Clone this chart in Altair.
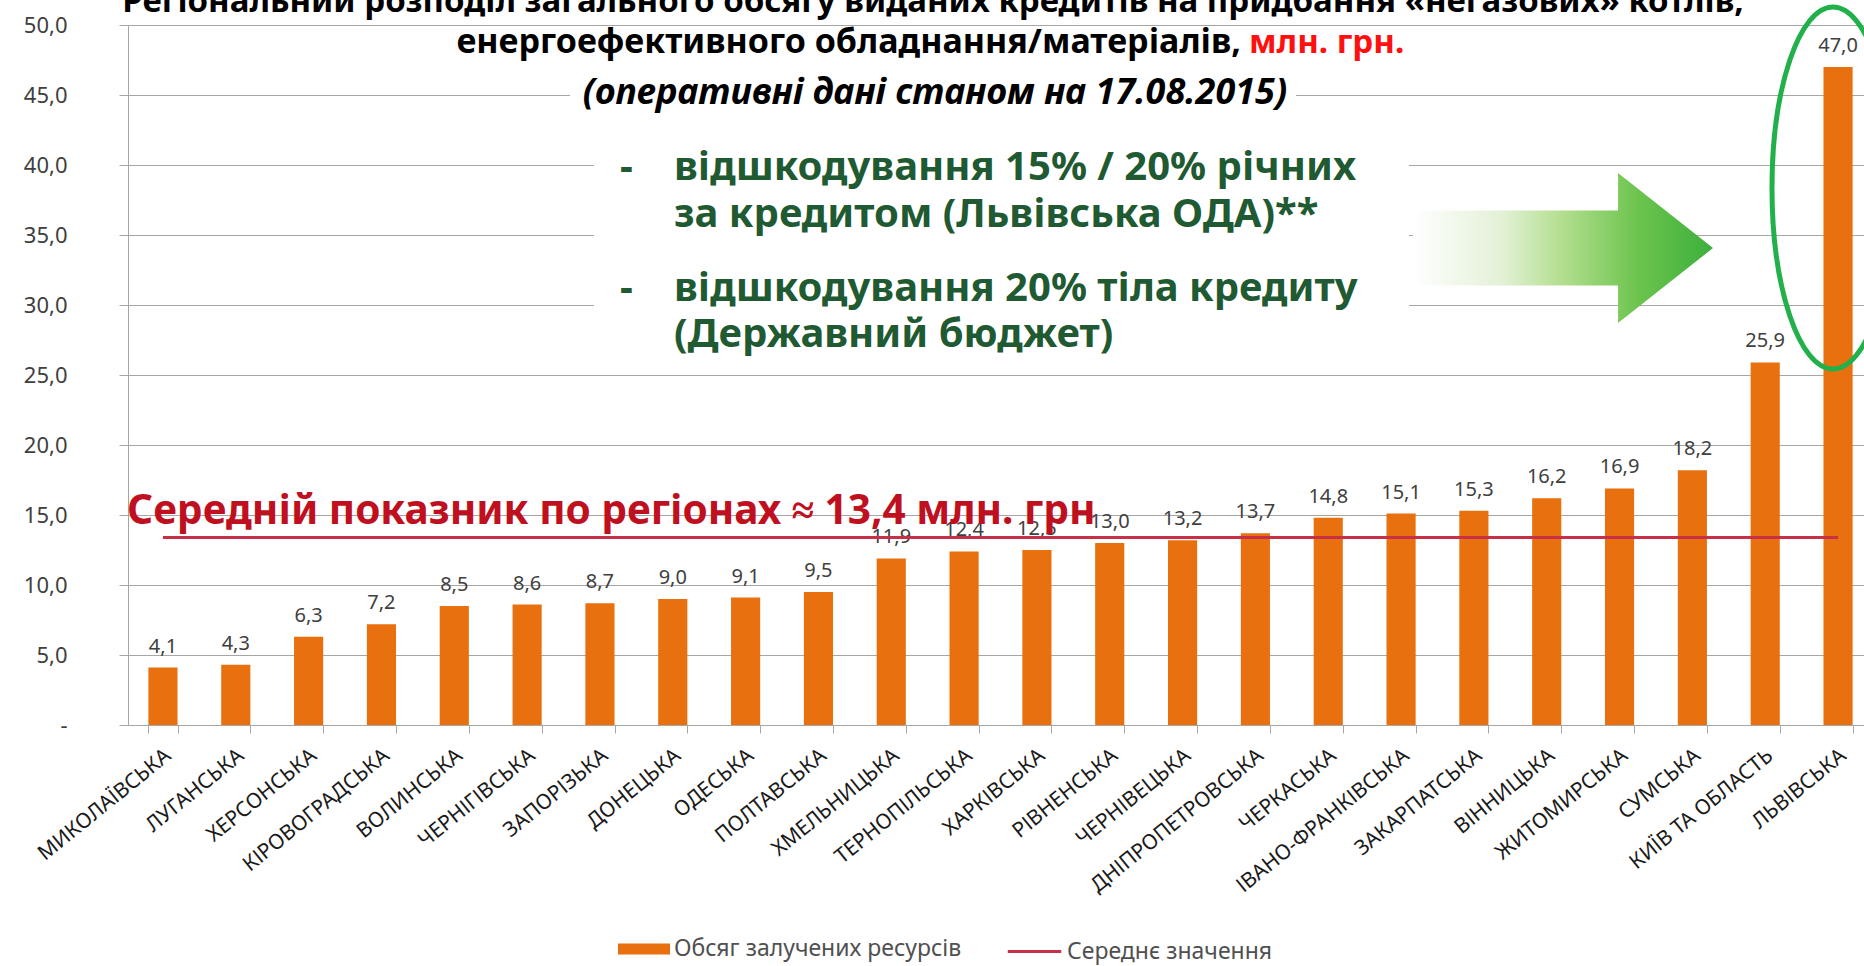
import altair as alt
import pandas as pd

# ---------------- data ----------------
regions = ["МИКОЛАЇВСЬКА", "ЛУГАНСЬКА", "ХЕРСОНСЬКА", "КІРОВОГРАДСЬКА", "ВОЛИНСЬКА",
           "ЧЕРНІГІВСЬКА", "ЗАПОРІЗЬКА", "ДОНЕЦЬКА", "ОДЕСЬКА", "ПОЛТАВСЬКА",
           "ХМЕЛЬНИЦЬКА", "ТЕРНОПІЛЬСЬКА", "ХАРКІВСЬКА", "РІВНЕНСЬКА", "ЧЕРНІВЕЦЬКА",
           "ДНІПРОПЕТРОВСЬКА", "ЧЕРКАСЬКА", "ІВАНО-ФРАНКІВСЬКА", "ЗАКАРПАТСЬКА",
           "ВІННИЦЬКА", "ЖИТОМИРСЬКА", "СУМСЬКА", "КИЇВ ТА ОБЛАСТЬ", "ЛЬВІВСЬКА"]
volumes = [4.1, 4.3, 6.3, 7.2, 8.5, 8.6, 8.7, 9.0, 9.1, 9.5, 11.9, 12.4, 12.5,
           13.0, 13.2, 13.7, 14.8, 15.1, 15.3, 16.2, 16.9, 18.2, 25.9, 47.0]
average_value = [13.4]
y_ticks = [0, 5, 10, 15, 20, 25, 30, 35, 40, 45, 50]
series_names = ["Обсяг залучених ресурсів", "Середнє значення"]

title_line1 = "Регіональний розподіл загального обсягу виданих кредитів на придбання «негазових» котлів,"
title_line2_black = "енергоефективного обладнання/матеріалів, "
title_line2_red = "млн. грн."
title_line3 = "(оперативні дані станом на 17.08.2015)"
avg_note = "Середній показник по регіонах ≈ 13,4 млн. грн"
green_lines = ["відшкодування 15% / 20% річних", "за кредитом (Львівська ОДА)**",
               "відшкодування 20% тіла кредиту", "(Державний бюджет)"]

# ---------------- style ----------------
FONT = "Noto Sans"
ORANGE = "#E8700E"
CRIMSON = "#C8304A"
GRID = "#A6A6A6"
GREEN_TXT = "#1F5A32"
W, H = 1736, 700

bars_df = pd.DataFrame({"region": regions, "value": volumes, "series": series_names[0]})
avg_df = pd.DataFrame({"region": [regions[0]], "region_end": [regions[-1]],
                       "avg": average_value, "series": [series_names[1]]})
one_row = pd.DataFrame({"k": [0]})  # single datum for annotation marks

x_scale = alt.Scale(domain=regions, range=[0, 1745], paddingInner=0.6, paddingOuter=0.28)
y_scale = alt.Scale(domain=[0, 50], nice=False)

x_axis = alt.Axis(title=None, labelAngle=-39, labelAlign="right", labelBaseline="middle",
                  labelFont=FONT, labelFontSize=21, labelColor="#1a1a1a",
                  labelPadding=20, labelOffset=5, tickBand="extent", tickSize=8,
                  tickColor=GRID, domainColor=GRID, grid=False, labelOverlap=False, labelLimit=400)
y_axis = alt.Axis(title=None, values=y_ticks, grid=True, gridColor=GRID, gridWidth=1,
                  tickSize=9, tickColor=GRID, domainColor=GRID, labelFont=FONT,
                  labelFontSize=22, labelColor="#404040", labelPadding=52,
                  labelExpr="datum.value == 0 ? '-\u00a0\u00a0' : replace(format(datum.value, '.1f'), '.', ',')")

bars = alt.Chart(bars_df).mark_bar().encode(
    x=alt.X("region:N", scale=x_scale, axis=x_axis, sort=regions),
    y=alt.Y("value:Q", scale=y_scale, axis=y_axis),
    fill=alt.Fill("series:N", scale=alt.Scale(domain=[series_names[0]], range=[ORANGE]),
                  legend=alt.Legend(orient="none", legendX=490, legendY=898, title=None,
                                    symbolType="M-1,-0.21H1V0.21H-1Z", symbolSize=2704,
                                    labelFont=FONT, labelFontSize=23, labelColor="#505050",
                                    labelOffset=4, padding=0, symbolStrokeWidth=0,
                                    labelLimit=600)),
)

value_labels = alt.Chart(bars_df).transform_calculate(
    lbl="replace(format(datum.value, '.1f'), '.', ',')"
).mark_text(font=FONT, fontSize=20, color="#404040", baseline="alphabetic", dy=-15).encode(
    x=alt.X("region:N", scale=x_scale, sort=regions),
    y=alt.Y("value:Q", scale=y_scale),
    text="lbl:N",
)

avg_rule = alt.Chart(avg_df).mark_rule(strokeWidth=3).encode(
    x=alt.X("region:N", scale=x_scale, sort=regions),
    x2="region_end:N",
    y=alt.Y("avg:Q", scale=y_scale),
    stroke=alt.Stroke("series:N", scale=alt.Scale(domain=[series_names[1]], range=[CRIMSON]),
                      legend=alt.Legend(orient="none", legendX=878, legendY=898, title=None,
                                        symbolType="stroke", symbolSize=2860, symbolStrokeWidth=3,
                                        labelFont=FONT, labelFontSize=23, labelColor="#505050",
                                        labelOffset=4, padding=0, labelLimit=600)),
)

# white boxes behind annotation text (they hide gridlines as in the original slide)
box1 = alt.Chart(one_row).mark_rect(color="white").encode(
    x=alt.value(466), x2=alt.value(1281), y=alt.value(125), y2=alt.value(315))
box2 = alt.Chart(one_row).mark_rect(color="white").encode(
    x=alt.value(442), x2=alt.value(1168), y=alt.value(50), y2=alt.value(87))

def txt(s, x, y, size, color="black", weight="bold", style="normal", align="left", baseline="middle"):
    return alt.Chart(one_row).mark_text(
        text=s, font=FONT, fontSize=size, fontWeight=weight, fontStyle=style,
        color=color, align=align, baseline=baseline).encode(x=alt.value(x), y=alt.value(y))

t1 = txt(title_line1, 805, -23, 33, align="center")
t2a = txt(title_line2_black, 1113, 18, 34, align="right")
t2b = txt(title_line2_red, 1121, 18, 33, color="#FF1010", align="left")
t3 = txt(title_line3, 807, 68, 36, style="italic", align="center")
avg_t = txt(avg_note, -1, 487, 40.6, color="#C01020", align="left")

g_texts = []
g_y = [143, 190, 264, 310]
for i, s in enumerate(green_lines):
    g_texts.append(txt(s, 546, g_y[i], 40, color=GREEN_TXT))
g_texts.append(txt("-", 492, g_y[0], 40, color=GREEN_TXT))
g_texts.append(txt("-", 492, g_y[2], 40, color=GREEN_TXT))

arrow_path = "M-1,-0.25L0.367,-0.25L0.367,-0.5L1,0L0.367,0.5L0.367,0.25L-1,0.25Z"
arrow = alt.Chart(one_row).mark_point(
    shape=arrow_path, size=90000, filled=True, opacity=1, strokeWidth=0,
    fill=alt.Gradient(gradient="linear", x1=0, x2=1, y1=0, y2=0,
                      stops=[alt.GradientStop(color="#FFFFFF", offset=0),
                             alt.GradientStop(color="#E2F1D6", offset=0.3),
                             alt.GradientStop(color="#B2DE8E", offset=0.5),
                             alt.GradientStop(color="#6CC44E", offset=0.75),
                             alt.GradientStop(color="#3CAF3C", offset=1)])
).encode(x=alt.value(1435), y=alt.value(223))

k = 0.5523
a = 0.337
ell_path = (f"M0,-1C{k*a:.4f},-1 {a},-{k:.4f} {a},0C{a},{k:.4f} {k*a:.4f},1 0,1"
            f"C-{k*a:.4f},1 -{a},{k:.4f} -{a},0C-{a},-{k:.4f} -{k*a:.4f},-1 0,-1Z")
ellipse = alt.Chart(one_row).mark_point(
    shape=ell_path, size=131044, filled=False, opacity=1, stroke="#22B04B", strokeWidth=5
).encode(x=alt.value(1705), y=alt.value(163))

chart = alt.layer(
    box1, box2, bars, value_labels, avg_rule, t1, t2a, t2b, t3, avg_t, *g_texts, arrow, ellipse
).resolve_scale(fill="independent", stroke="independent").properties(
    width=W, height=H, autosize="none",
    padding={"left": 128, "top": 25, "right": 0, "bottom": 241},
    background="white",
).configure_view(stroke=None)

chart.save("out.html", embed_options={"renderer": "svg", "actions": False})
